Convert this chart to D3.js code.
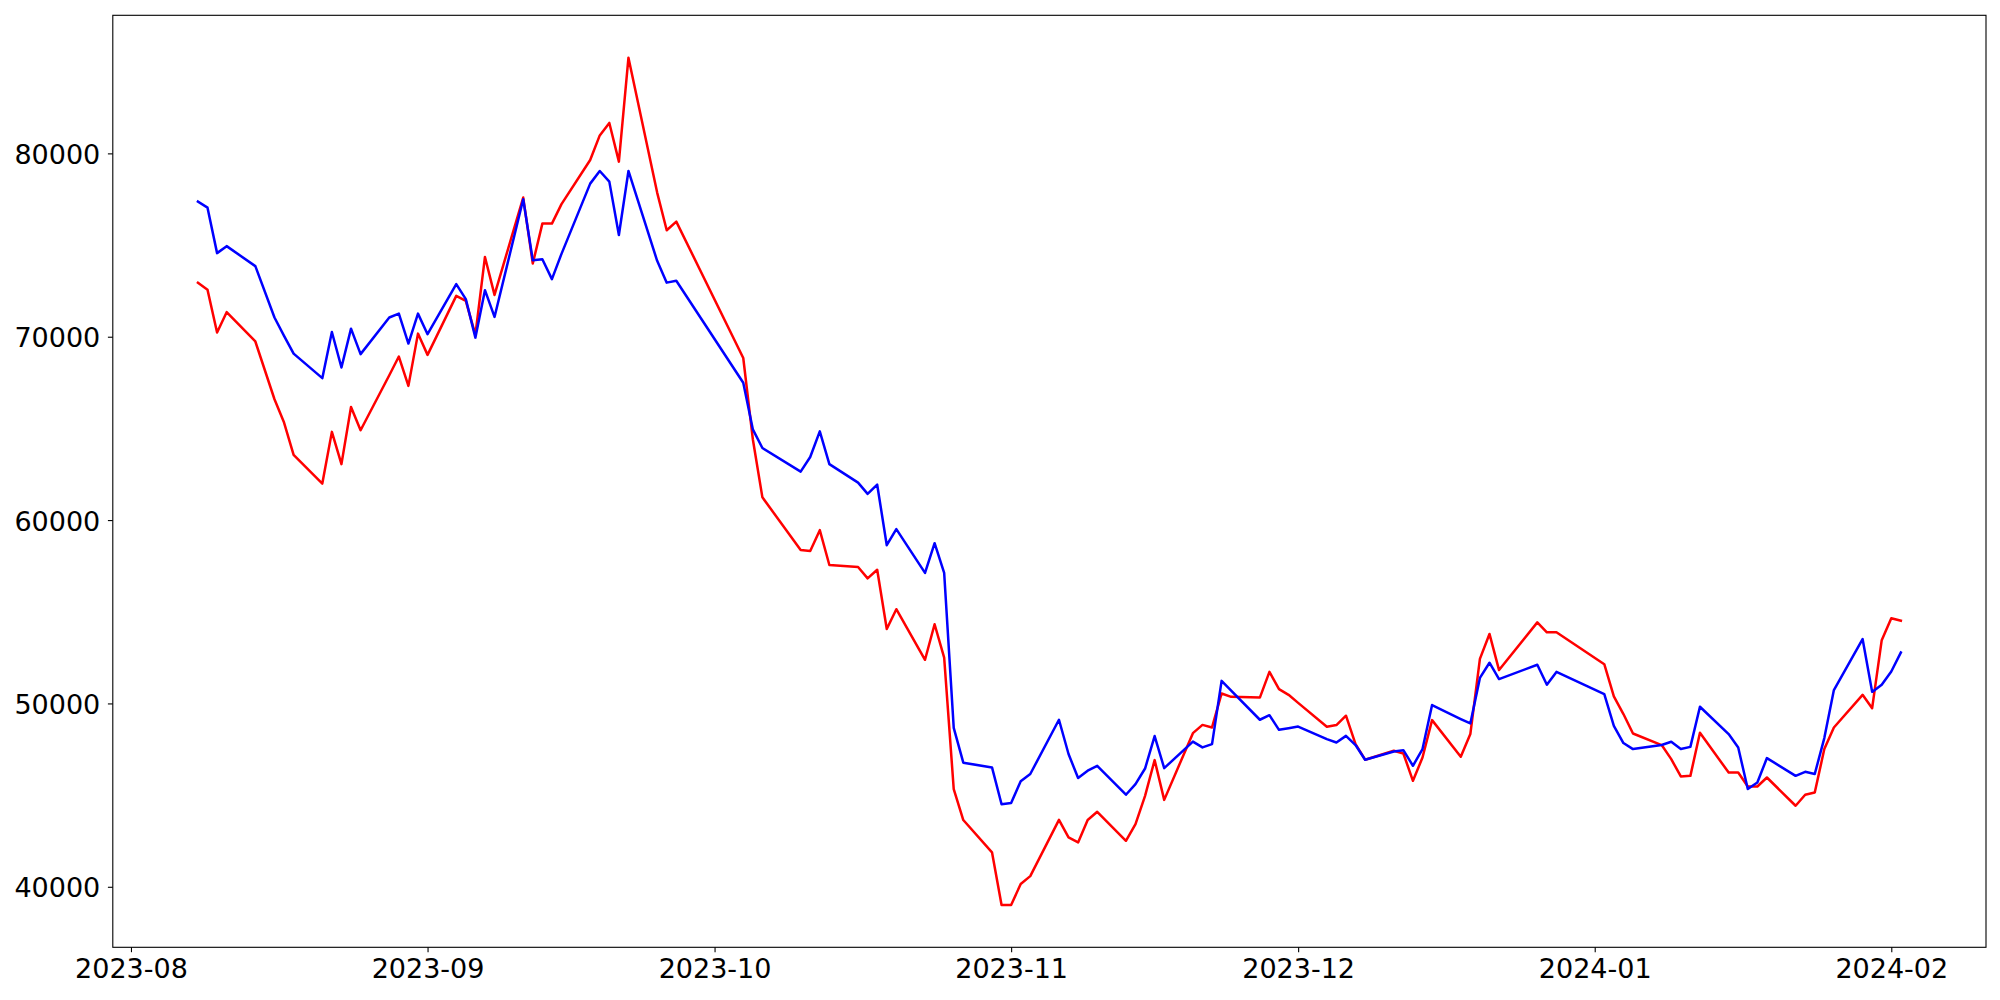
<!DOCTYPE html>
<html>
<head>
<meta charset="utf-8">
<script src="https://cdn.jsdelivr.net/npm/d3@7"></script>
<style>
  body { margin: 0; background: #fff; }
  svg { display: block; }
  .axis text { font-family: "DejaVu Sans", sans-serif; font-size: 27px; fill: #000; }
  .axis path, .axis line { stroke: #000; stroke-width: 1.1px; }
  .line { fill: none; stroke-width: 2.5px; stroke-linejoin: round; stroke-linecap: square; }
</style>
</head>
<body>
<svg id="line-chart" width="2000" height="1000"></svg>
<script>
// Trading days (KRX calendar, holidays skipped)
const dates = [
  "2023-08-08","2023-08-09","2023-08-10","2023-08-11","2023-08-14","2023-08-16","2023-08-17","2023-08-18",
  "2023-08-21","2023-08-22","2023-08-23","2023-08-24","2023-08-25","2023-08-28","2023-08-29","2023-08-30",
  "2023-08-31","2023-09-01","2023-09-04","2023-09-05","2023-09-06","2023-09-07","2023-09-08","2023-09-11",
  "2023-09-12","2023-09-13","2023-09-14","2023-09-15","2023-09-18","2023-09-19","2023-09-20","2023-09-21",
  "2023-09-22","2023-09-25","2023-09-26","2023-09-27","2023-10-04","2023-10-05","2023-10-06","2023-10-10",
  "2023-10-11","2023-10-12","2023-10-13","2023-10-16","2023-10-17","2023-10-18","2023-10-19","2023-10-20",
  "2023-10-23","2023-10-24","2023-10-25","2023-10-26","2023-10-27","2023-10-30","2023-10-31","2023-11-01",
  "2023-11-02","2023-11-03","2023-11-06","2023-11-07","2023-11-08","2023-11-09","2023-11-10","2023-11-13",
  "2023-11-14","2023-11-15","2023-11-16","2023-11-17","2023-11-20","2023-11-21","2023-11-22","2023-11-23",
  "2023-11-24","2023-11-27","2023-11-28","2023-11-29","2023-11-30","2023-12-01","2023-12-04","2023-12-05",
  "2023-12-06","2023-12-07","2023-12-08","2023-12-11","2023-12-12","2023-12-13","2023-12-14","2023-12-15",
  "2023-12-18","2023-12-19","2023-12-20","2023-12-21","2023-12-22","2023-12-26","2023-12-27","2023-12-28",
  "2024-01-02","2024-01-03","2024-01-04","2024-01-05","2024-01-08","2024-01-09","2024-01-10","2024-01-11",
  "2024-01-12","2024-01-15","2024-01-16","2024-01-17","2024-01-18","2024-01-19","2024-01-22","2024-01-23",
  "2024-01-24","2024-01-25","2024-01-26","2024-01-29","2024-01-30","2024-01-31","2024-02-01","2024-02-02"
]

// Red series
const redValues = [
  72950, 72560, 70230, 71340, 69740, 66590, 65320, 63560,
  61990, 64810, 63050, 66170, 64900, 67900, 68920, 67320,
  70170, 69010, 72230, 71960, 70100, 74350, 72280, 77590,
  73990, 76170, 76170, 77230, 79640, 80980, 81660, 79550,
  85220, 77860, 75810, 76280, 68840, 64410, 61240, 58370,
  58310, 59450, 57550, 57440, 56820, 57290, 54060, 55140,
  52380, 54320, 52500, 45330, 43640, 41880, 39010, 39010,
  40150, 40580, 43650, 42690, 42420, 43640, 44090, 42510,
  43420, 44960, 46910, 44740, 48380, 48830, 48690, 50540,
  50360, 50320, 51720, 50780, 50470, 50030, 48730, 48820,
  49330, 47780, 46930, 47420, 47270, 45780, 47050, 49090,
  47090, 48330, 52430, 53790, 51820, 54420, 53880, 53880,
  52140, 50380, 49420, 48360, 47730, 46960, 46020, 46050,
  48400, 46230, 46230, 45470, 45470, 45960, 44420, 45020,
  45140, 47510, 48690, 50470, 49740, 53450, 54650, 54510
]

// Blue series
const blueValues = [
  77370, 77040, 74560, 74940, 73850, 71050, 70050, 69080,
  67740, 70260, 68320, 70440, 69050, 71050, 71260, 69630,
  71260, 70140, 72870, 72050, 69950, 72540, 71080, 77500,
  74170, 74230, 73140, 74520, 78350, 79040, 78460, 75550,
  79040, 74140, 72950, 73050, 67490, 64950, 63930, 62640,
  63440, 64840, 63050, 62040, 61430, 61930, 58630, 59510,
  57120, 58740, 57120, 48670, 46770, 46510, 44500, 44570,
  45760, 46150, 49110, 47240, 45930, 46330, 46600, 45020,
  45600, 46450, 48220, 46470, 47920, 47600, 47780, 51230,
  50700, 49110, 49360, 48560, 48650, 48740, 48050, 47870,
  48230, 47730, 46930, 47380, 47450, 46600, 47510, 49910,
  49150, 48910, 51390, 52220, 51330, 52110, 51020, 51720,
  50510, 48780, 47840, 47510, 47730, 47910, 47510, 47630,
  49820, 48330, 47600, 45330, 45690, 47020, 46050, 46270,
  46150, 48110, 50730, 53510, 50630, 51020, 51740, 52780
]

const seriesColors = ["#ff0000", "#0000ff"]
const yTicks = [40000, 50000, 60000, 70000, 80000]

const paintChart = () => {

  // Define the dimensions of the SVG
  let svg = d3.select("#line-chart")
  let margin = {top: 15.3, right: 14, bottom: 52.7, left: 112.8}
  let width = svg.attr("width") - margin.left - margin.right
  let height = svg.attr("height") - margin.top - margin.bottom
  let g = svg.append("g").attr("transform", "translate(" + margin.left + "," + margin.top + ")")

  let parse = d3.utcParse("%Y-%m-%d")
  let days = dates.map(parse)

  let series = [redValues, blueValues].map((vals, i) => {
    return {
      color: seriesColors[i],
      values: vals.map((v, j) => { return { date: days[j], value: v } })
    }
  })

  // Matplotlib-like 5% padding on both axes
  let t0 = +d3.min(days), t1 = +d3.max(days)
  let tPad = (t1 - t0) * 0.05
  let allVals = redValues.concat(blueValues)
  let v0 = d3.min(allVals), v1 = d3.max(allVals)
  let vPad = (v1 - v0) * 0.05

  let x = d3.scaleUtc().domain([new Date(t0 - tPad), new Date(t1 + tPad)]).range([0, width])
  let y = d3.scaleLinear().domain([v0 - vPad, v1 + vPad]).range([height, 0])

  // Draw lines
  let line = d3.line()
      .x((d) => { return x(d.date) })
      .y((d) => { return y(d.value) })

  g.selectAll(".line")
    .data(series)
    .enter().append("path")
      .attr("class", "line")
      .attr("d", (d) => { return line(d.values) })
      .style("stroke", (d) => { return d.color })

  // Axes
  let xAxis = g.append("g")
      .attr("class", "axis axis--x")
      .attr("transform", "translate(0," + height + ")")
      .call(d3.axisBottom(x)
        .ticks(d3.utcMonth.every(1))
        .tickFormat(d3.utcFormat("%Y-%m"))
        .tickSizeOuter(0)
        .tickSize(4.9))
  xAxis.select(".domain").remove()
  xAxis.selectAll("text").attr("y", 31).attr("dy", 0)

  let yAxis = g.append("g")
      .attr("class", "axis axis--y")
      .call(d3.axisLeft(y)
        .tickValues(yTicks)
        .tickFormat(d3.format("d"))
        .tickSizeOuter(0)
        .tickSize(4.9)
        .tickPadding(7.6))
  yAxis.select(".domain").remove()
  yAxis.selectAll("text").attr("dy", "0.37em")

  // Frame (spines)
  g.append("rect")
      .attr("x", 0)
      .attr("y", 0)
      .attr("width", width)
      .attr("height", height)
      .attr("fill", "none")
      .attr("stroke", "#000")
      .attr("stroke-width", 1.1)
}

paintChart()
</script>
</body>
</html>
